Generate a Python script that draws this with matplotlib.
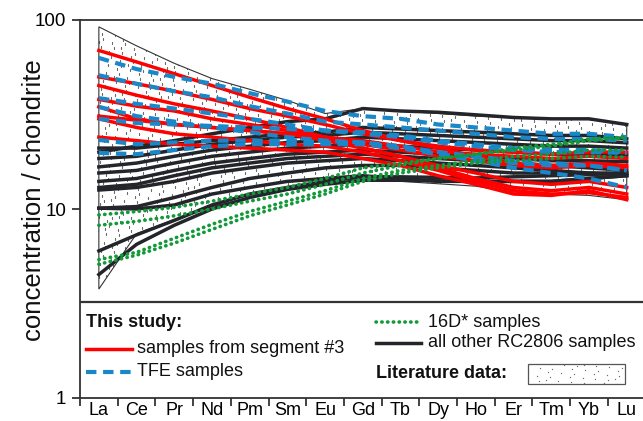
import matplotlib
matplotlib.use("Agg")
import matplotlib.pyplot as plt
from matplotlib.patches import Polygon, Rectangle
import numpy as np

plt.rcParams['font.family'] = ['Liberation Sans', 'DejaVu Sans']

elements = ['La', 'Ce', 'Pr', 'Nd', 'Pm', 'Sm', 'Eu', 'Gd', 'Tb', 'Dy', 'Ho', 'Er', 'Tm', 'Yb', 'Lu']

# Literature envelope (chondrite-normalised)
lit_upper = [92, 73, 59, 49, 43, 37.5, 32, 34, 33, 32, 31, 30.5, 30, 30, 28.2]
lit_lower = [3.77, 7.4, 8.8, 10.3, 11.5, 12.6, 13.5, 14, 14, 13.6, 13.2, 12.3, 12, 11.8, 11.2]

# Samples from segment #3
segment3 = [
    [69, 60, 52, 45, 39, 34, 30, 26, 23, 21, 19, 17.5, 17, 17.5, 17],
    [50, 46, 42, 38, 34, 31, 28, 25, 23, 21.5, 20.5, 20, 19.5, 20, 20],
    [45, 40, 36, 33, 30, 27, 24, 21, 19, 17, 15.5, 14, 13.5, 14, 13],
    [38, 35, 33, 30, 28, 26, 24, 22, 20.5, 19, 18, 17, 16.5, 17, 16.5],
    [34.7, 30, 28, 27, 26, 25, 24, 23, 21.5, 20, 19.5, 19, 18.5, 19, 18.5],
    [31, 29.5, 28, 27, 26, 25, 23, 21, 19, 16.5, 14.5, 13, 12.5, 13, 12],
    [30, 27, 25, 24, 23, 22, 21.5, 20, 18, 16, 14, 12.5, 12, 12.2, 11.5],
    [24, 23, 22, 21.5, 21, 20.5, 20, 18.5, 17, 15, 13.5, 12, 11.8, 12.5, 11.2],
]

# TFE samples
tfe = [
    [63, 55, 50, 46, 41, 37, 33, 31, 30, 28, 27, 26, 25, 25, 24],
    [51, 46, 42, 39, 35, 32, 29, 28, 27, 26, 25, 24, 23.5, 23.5, 23],
    [38.6, 36, 34, 32, 30, 28, 26, 25, 24, 22.5, 21.5, 20.5, 20, 20, 19.8],
    [34.7, 31, 29, 27, 25.5, 24, 23, 22.5, 21.5, 20, 19, 18, 17.5, 17, 16],
    [30, 28.5, 28, 27.5, 27, 26.5, 26, 25.5, 24.5, 23, 22, 21, 20.5, 20.5, 20],
    [23.2, 22, 22.5, 23, 23, 23, 22.5, 22.5, 21, 19.5, 18, 16.5, 15.5, 14.5, 13],
    [19.8, 19.5, 20.5, 21.5, 22, 22, 22, 22, 21, 19.5, 18.5, 17.5, 17, 17, 16],
]

# 16D* samples
d16 = [
    [9.3, 9.7, 10.2, 11, 12, 13, 14.5, 16.5, 17.5, 18.5, 19.5, 20.5, 21.5, 23, 23.7],
    [8.2, 8.6, 9.2, 10, 11, 12, 13.5, 15.5, 17, 18.5, 19.5, 21, 22, 23.5, 24],
    [5.4, 5.9, 7.0, 8.3, 9.7, 11, 12.5, 14.5, 16, 17, 18, 19, 19.5, 20.5, 20.5],
    [5.1, 5.7, 6.6, 7.8, 9.2, 10.5, 12, 14, 15.5, 16.5, 17.5, 18, 18.5, 19, 18.8],
]

# All other RC2806 samples
rc2806 = [
    [20, 21.5, 23, 25, 27, 29, 30, 34, 33, 32.5, 31.5, 30.5, 30, 30, 28],
    [21, 21, 22, 23, 24, 25, 25.5, 27, 26.5, 26, 25.5, 25, 24.5, 24.5, 23.5],
    [18.5, 19, 20.5, 22, 23, 24, 24.5, 25.5, 25, 24.5, 24, 23.5, 23, 23, 22.4],
    [16.7, 17.5, 19, 20.5, 21.5, 22.5, 23, 24, 23.5, 23, 22.5, 22, 21.5, 21.5, 21],
    [15.5, 16, 17.5, 19, 20, 21, 21.5, 22, 21.5, 21, 20.5, 20, 19.5, 19.5, 19.3],
    [14, 14.5, 16, 17.5, 18.5, 19.5, 20, 20.5, 20, 19.5, 19, 18.5, 18, 18, 17.8],
    [13, 13.5, 15, 16.5, 17.5, 18.5, 19, 19.5, 19, 18.5, 18, 17.5, 17, 16.5, 16],
    [12.6, 13, 14, 15.5, 16.5, 17.5, 18, 18.5, 18, 17.5, 17, 16.5, 16, 15.5, 15.1],
    [10.1, 10.3, 11.5, 13, 14.5, 15.5, 16.5, 17, 17, 16.5, 16, 15.5, 15.5, 15.5, 15.5],
    [10.1, 10, 10.5, 12, 13, 14, 14.5, 15, 14.5, 14, 14, 14, 14, 14.5, 15],
    [6.0, 7.3, 8.7, 10.5, 12, 13, 14, 14.8, 14.8, 14.7, 14.6, 14.8, 15, 15.2, 15.5],
    [4.5, 6.5, 8.2, 10, 11.5, 12.7, 13.5, 14.2, 14.2, 14.1, 14, 14, 14, 14.5, 15],
]

legend_floor = 3.22

RED = '#ff0000'
BLUE = '#1a87c9'
GREEN = '#129a3a'
BLACK = '#23252a'
SPINE = '#333333'
STIPPLE = '#6e6e6e'

fig = plt.figure(figsize=(6.43, 4.21), dpi=100)
ax = fig.add_axes([80 / 643, 23 / 421, 565.6 / 643, 378 / 421])
x = np.arange(len(elements))
tr = ax.transAxes


def stipple(clip_patch, n=3600):
    """Fill a patch with an even low-discrepancy scatter of fine dots."""
    k = np.arange(1, n + 1)
    u = (0.5 + k * 0.7548776662466927) % 1.0
    v = (0.5 + k * 0.5698402909980532) % 1.0
    dots, = ax.plot(u, v, linestyle='none', marker='s', markersize=0.85,
                    markeredgewidth=0, color=STIPPLE, transform=tr, zorder=1.5)
    dots.set_clip_path(clip_patch)


# literature envelope: stippled fill plus thin outline
env = np.vstack([np.column_stack([x, lit_upper]),
                 np.column_stack([x[::-1], lit_lower[::-1]])])
env_patch = Polygon(env, closed=True, facecolor='white', edgecolor='none',
                    zorder=1)
ax.add_patch(env_patch)
stipple(env_patch)
ax.add_patch(Polygon(env, closed=True, facecolor='none', edgecolor='#333333',
                     linewidth=0.8, zorder=2))

for s in rc2806:
    ax.plot(x, s, color=BLACK, lw=2.5, solid_joinstyle='round', zorder=3)
for s in segment3:
    ax.plot(x, s, color=RED, lw=2.5, solid_joinstyle='round', zorder=4)
for s in tfe:
    ax.plot(x, s, color=BLUE, lw=3.0, dashes=(2.5, 1.6), zorder=5)
for s in d16:
    ax.plot(x, s, color=GREEN, lw=2.6, linestyle=(0, (0.1, 1.5)),
            dash_capstyle='round', zorder=6)

ax.set_yscale('log')
ax.set_ylim(1, 100)
ax.set_xlim(-0.5, len(elements) - 0.5)

ax.set_yticks([1, 10, 100])
ax.set_yticklabels(['1', '10', '100'])
ax.yaxis.set_minor_locator(matplotlib.ticker.NullLocator())
ax.set_xticks(x)
ax.set_xticklabels(elements)
ax.set_xticks(np.arange(-0.5, len(elements)), minor=True)
ax.tick_params(axis='x', which='major', length=0, labelsize=13, pad=3)
ax.tick_params(axis='x', which='minor', length=6, width=1.3, color=SPINE,
               direction='out')
ax.tick_params(axis='y', which='major', length=6, width=1.3, color=SPINE,
               labelsize=13.5, pad=4)
for sp in ax.spines.values():
    sp.set_color(SPINE)
    sp.set_linewidth(1.3)
ax.spines['right'].set_visible(False)

fig.text(34 / 643, 0.525, 'concentration / chondrite', rotation=90,
         ha='center', va='center', fontsize=18.5, color='#111111')

# legend panel
ax.axhline(legend_floor, color=SPINE, lw=1.6, zorder=7)
fs = 13
ax.text(0.011, 0.201, 'This study:', transform=tr, fontsize=fs,
        fontweight='bold', va='center', ha='left', color='#111111')
ax.plot([0.011, 0.092], [0.130, 0.130], transform=tr, color=RED, lw=2.5,
        clip_on=False)
ax.text(0.101, 0.130, 'samples from segment #3', transform=tr, fontsize=fs,
        va='center', ha='left', color='#111111')
ax.plot([0.011, 0.092], [0.069, 0.069], transform=tr, color=BLUE, lw=3.0,
        dashes=(2.5, 1.6), clip_on=False)
ax.text(0.101, 0.069, 'TFE samples', transform=tr, fontsize=fs,
        va='center', ha='left', color='#111111')
ax.plot([0.523, 0.603], [0.201, 0.201], transform=tr, color=GREEN, lw=2.6,
        linestyle=(0, (0.1, 1.5)), dash_capstyle='round', clip_on=False)
ax.text(0.615, 0.201, '16D* samples', transform=tr, fontsize=fs,
        va='center', ha='left', color='#111111')
ax.plot([0.523, 0.603], [0.146, 0.146], transform=tr, color=BLACK, lw=2.5,
        clip_on=False)
ax.text(0.615, 0.146, 'all other RC2806 samples', transform=tr, fontsize=fs,
        va='center', ha='left', color='#111111')
ax.text(0.523, 0.066, 'Literature data:', transform=tr, fontsize=fs,
        fontweight='bold', va='center', ha='left', color='#111111')
box = Rectangle((0.792, 0.037), 0.172, 0.053, transform=tr,
                facecolor='white', edgecolor='none', zorder=1)
ax.add_patch(box)
stipple(box)
ax.add_patch(Rectangle((0.792, 0.037), 0.172, 0.053, transform=tr,
                       facecolor='none', edgecolor='#555555', lw=0.9,
                       zorder=2))

fig.savefig('out.png', dpi=100)
